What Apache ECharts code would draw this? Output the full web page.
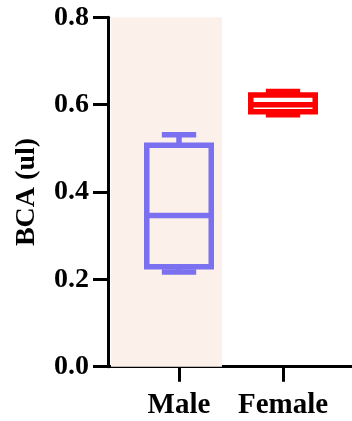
<!DOCTYPE html>
<html>
<head>
<meta charset="utf-8">
<script src="https://cdn.jsdelivr.net/npm/echarts@6/dist/echarts.min.js"></script>
<style>
html,body{margin:0;padding:0;background:#fff;}
#chart{width:352px;height:421px;}
</style>
</head>
<body>
<div id="chart"></div>
<script>
// Data
var categories = ['Male', 'Female'];
var categoryPositions = [1, 2];
// [min, Q1, median, Q3, max]
var maleStats = [0.217, 0.229, 0.346, 0.507, 0.531];
var femaleStats = [0.577, 0.584, 0.600, 0.622, 0.630];
var seriesColors = ['#7B70F0', '#FF0000'];
var yTicks = [0, 0.2, 0.4, 0.6, 0.8];
var shadedRange = [0.346, 1.413];

var stats = [maleStats, femaleStats];
var boxData = stats.map(function (s, i) {
  return [categoryPositions[i]].concat(s).concat([i]);
});

var FONT = '"Liberation Serif", "Times New Roman", serif';
var LW = 5.5;

function renderBox(params, api) {
  var x = api.value(0);
  var mn = api.value(1), q1 = api.value(2), md = api.value(3), q3 = api.value(4), mx = api.value(5);
  var idx = api.value(6);
  var color = seriesColors[idx];
  var unit = api.size([1, 0])[0];
  var halfBox = unit * 0.31;
  var halfCap = unit * 0.165;
  var pMin = api.coord([x, mn]), pQ1 = api.coord([x, q1]), pMd = api.coord([x, md]);
  var pQ3 = api.coord([x, q3]), pMax = api.coord([x, mx]);
  var cx = pMd[0];
  var style = {stroke: color, lineWidth: LW, fill: null};
  return {
    type: 'group',
    children: [
      {type: 'line', shape: {x1: cx, y1: pQ3[1], x2: cx, y2: pMax[1]}, style: style},
      {type: 'line', shape: {x1: cx, y1: pQ1[1], x2: cx, y2: pMin[1]}, style: style},
      {type: 'line', shape: {x1: cx - halfCap, y1: pMax[1], x2: cx + halfCap, y2: pMax[1]}, style: style},
      {type: 'line', shape: {x1: cx - halfCap, y1: pMin[1], x2: cx + halfCap, y2: pMin[1]}, style: style},
      {type: 'rect', shape: {x: cx - halfBox, y: pQ3[1], width: halfBox * 2, height: pQ1[1] - pQ3[1]}, style: style},
      {type: 'line', shape: {x1: cx - halfBox, y1: pMd[1], x2: cx + halfBox, y2: pMd[1]}, style: style}
    ]
  };
}

var chart = echarts.init(document.getElementById('chart'), null, {renderer: 'canvas'});
chart.setOption({
  animation: false,
  backgroundColor: '#ffffff',
  grid: {left: 108, right: 0, top: 17.3, bottom: 54.3, containLabel: false},
  xAxis: {
    type: 'value',
    min: 0.3173,
    max: 2.6635,
    splitLine: {show: false},
    axisLine: {show: true, onZero: false, lineStyle: {color: '#000', width: 3}},
    axisTick: {show: true, customValues: categoryPositions, length: 15, lineStyle: {color: '#000', width: 3}},
    axisLabel: {
      show: true,
      customValues: categoryPositions,
      formatter: function (v) {
        var i = categoryPositions.indexOf(Math.round(v));
        return i >= 0 ? categories[i] : '';
      },
      margin: 24,
      color: '#000',
      fontFamily: FONT,
      fontWeight: 'bold',
      fontSize: 29
    }
  },
  yAxis: {
    type: 'value',
    min: 0,
    max: 0.8,
    interval: 0.2,
    name: 'BCA (ul)',
    nameLocation: 'middle',
    nameGap: 67,
    nameTextStyle: {color: '#000', fontFamily: FONT, fontWeight: 'bold', fontSize: 28},
    splitLine: {show: false},
    axisLine: {show: true, lineStyle: {color: '#000', width: 3}},
    axisTick: {show: true, length: 15, lineStyle: {color: '#000', width: 3}},
    axisLabel: {
      margin: 19,
      color: '#000',
      fontFamily: FONT,
      fontWeight: 'bold',
      fontSize: 28,
      formatter: function (v) { return v.toFixed(1); }
    }
  },
  series: [{
    type: 'custom',
    renderItem: renderBox,
    data: boxData,
    encode: {x: 0, y: [1, 2, 3, 4, 5]},
    z: 3,
    markArea: {
      silent: true,
      itemStyle: {color: '#FCF0EA'},
      data: [[{xAxis: shadedRange[0], yAxis: yTicks[0]}, {xAxis: shadedRange[1], yAxis: yTicks[yTicks.length - 1]}]]
    }
  }]
});
</script>
</body>
</html>
